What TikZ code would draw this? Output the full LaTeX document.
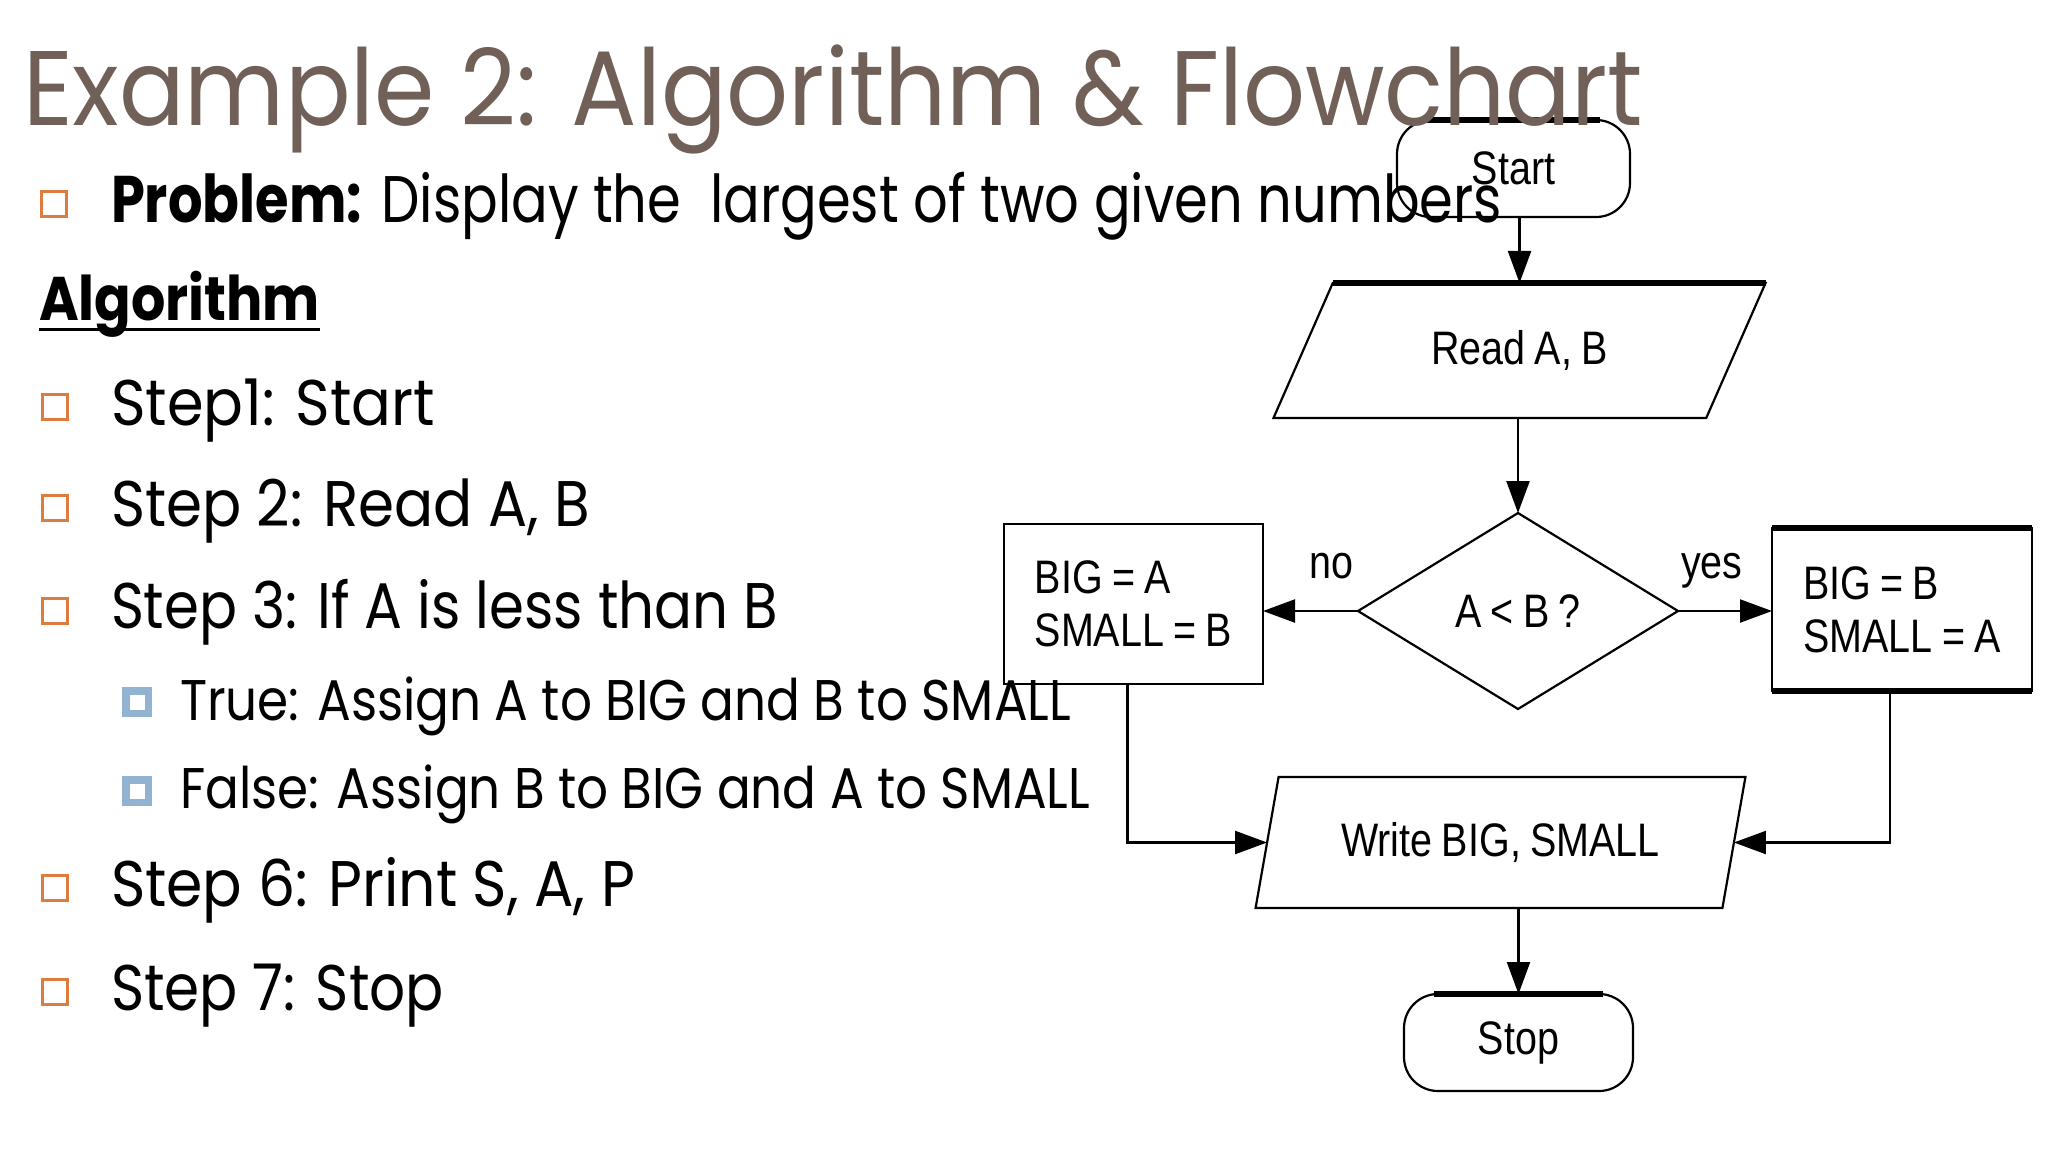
\documentclass[tikz,border=0pt]{standalone}
\usepackage{fontspec}
\usepackage{graphicx}
\usetikzlibrary{shapes.geometric,arrows.meta}
\newfontfamily\bodyf{Poppins}
\newfontfamily\flowf[FakeStretch=0.84,WordSpace=0.85]{Liberation Sans}
\definecolor{titlecol}{RGB}{112,96,88}
\definecolor{bulorange}{RGB}{222,124,62}
\definecolor{bulblue}{RGB}{146,178,210}
\newsavebox\fitbox
\newcommand{\fit}[3]{\sbox\fitbox{#3}\ht\fitbox=\fontcharht\font`\H\relax\dp\fitbox=0pt\relax\resizebox{#1pt}{#2pt}{\usebox\fitbox}}
\begin{document}
\begin{tikzpicture}[x=1pt,y=-1pt,
  fl/.style={draw=black, line width=2.2pt, inner sep=0pt, outer sep=0pt, font=\flowf\fontsize{47}{53}\selectfont},
  term/.style={fl, rectangle, rounded corners=34pt},
  io/.style={fl, trapezium, trapezium stretches=true},
  proc/.style={fl, rectangle, align=left},
  decis/.style={fl, diamond},
  arr/.style={line width=2.2pt, -{Triangle[length=32pt,width=23pt]}},
  thickedge/.style={line width=6pt},
  lbl/.style={anchor=base west, inner sep=0pt, font=\flowf\fontsize{47}{53}\selectfont},
  txt/.style={anchor=base west, inner sep=0pt, outer sep=0pt, font=\bodyf\fontsize{60}{72}\selectfont},
  obul/.style={draw=bulorange, line width=3pt, minimum size=25pt, inner sep=0pt},
  bbul/.style={draw=bulblue, line width=7.5pt, fill=white, minimum size=22.5pt, inner sep=0pt}]
\fill[white] (0,0) rectangle (2048,1152);
% ---------- flowchart ----------
\node[term, minimum width=233pt, minimum height=97pt] (start) at (1513.5,168.5) {Start};
\node[io, trapezium left angle=55, trapezium right angle=125, minimum width=493pt, minimum height=135pt] (read) at (1519.5,350.5) {Read A, B};
\node[decis, minimum width=320pt, minimum height=196pt] (dec) at (1518,611) {A < B ?};
\node[proc, minimum width=259pt, minimum height=160pt] (lbox) at (1133.5,604) {BIG = A\\SMALL = B};
\node[proc, minimum width=260pt, minimum height=163pt] (rbox) at (1902,609.5) {BIG = B\\SMALL = A};
\node[io, trapezium left angle=67.6, trapezium right angle=112.4, minimum width=491pt, minimum height=131pt] (write) at (1500.5,842.5) {Write BIG, SMALL};
\node[term, minimum width=229pt, minimum height=97pt] (stop) at (1518.5,1042.5) {Stop};
\node[lbl] (no) at (1309,578) {no};
\node[lbl] (yes) at (1681,578) {yes};
% thick top edges
\draw[thickedge] ([xshift=30pt]start.north west) -- ([xshift=-30pt]start.north east);
\draw[thickedge] (read.top left corner) -- (read.top right corner);
\draw[thickedge] (rbox.north west) -- (rbox.north east);
\draw[thickedge] (rbox.south west) -- (rbox.south east);
\draw[thickedge] ([xshift=30pt]stop.north west) -- ([xshift=-30pt]stop.north east);
% connectors
\draw[arr] (read.north |- start.south) -- (read.north);
\draw[arr] (dec.north |- read.south) -- (dec.north);
\draw[arr] (dec.west) -- (dec.west -| lbox.east);
\draw[arr] (dec.east) -- (dec.east -| rbox.west);
\draw[arr] ([xshift=-6pt]lbox.south) |- (write);
\draw[arr] ([xshift=-12pt]rbox.south) |- (write);
\draw[arr] (stop.north |- write.south) -- (stop.north);
% ---------- text ----------
\node[txt, text=titlecol] (title) at (23,125) {\fit{1620}{74}{Example 2: Algorithm \& Flowchart}};
\node[obul] (b0) at (54,204) {};
\node[txt] (prob) at (111,222) {\fit{1391}{46}{\textbf{Problem:} Display the\ \ largest of two given numbers}};
\node[txt] (algo) at (39,320) {\fit{281}{43}{\textbf{Algorithm}}};
\draw[line width=3pt] ([yshift=-9pt]algo.base west) -- ([yshift=-9pt]algo.base east);
\node[obul] (b1) at (55,407) {};
\node[txt] (s1) at (111,425) {\fit{324}{45}{Step1: Start}};
\node[obul] (b2) at (55,508) {};
\node[txt] (s2) at (111,526) {\fit{479}{45}{Step 2: Read A, B}};
\node[obul] (b3) at (55,611) {};
\node[txt] (s3) at (111,628) {\fit{667}{45}{Step 3: If A is less than B}};
\node[bbul] (b4) at (137,702) {};
\node[txt] (s4) at (180,720) {\fit{891}{40}{True: Assign A to BIG and B to SMALL}};
\node[bbul] (b5) at (137,791) {};
\node[txt] (s5) at (180,808) {\fit{910}{40}{False: Assign B to BIG and A to SMALL}};
\node[obul] (b6) at (55,888) {};
\node[txt] (s6) at (111,906) {\fit{524}{45}{Step 6: Print S, A, P}};
\node[obul] (b7) at (55,992) {};
\node[txt] (s7) at (111,1010) {\fit{333}{45}{Step 7: Stop}};
\end{tikzpicture}
\end{document}
